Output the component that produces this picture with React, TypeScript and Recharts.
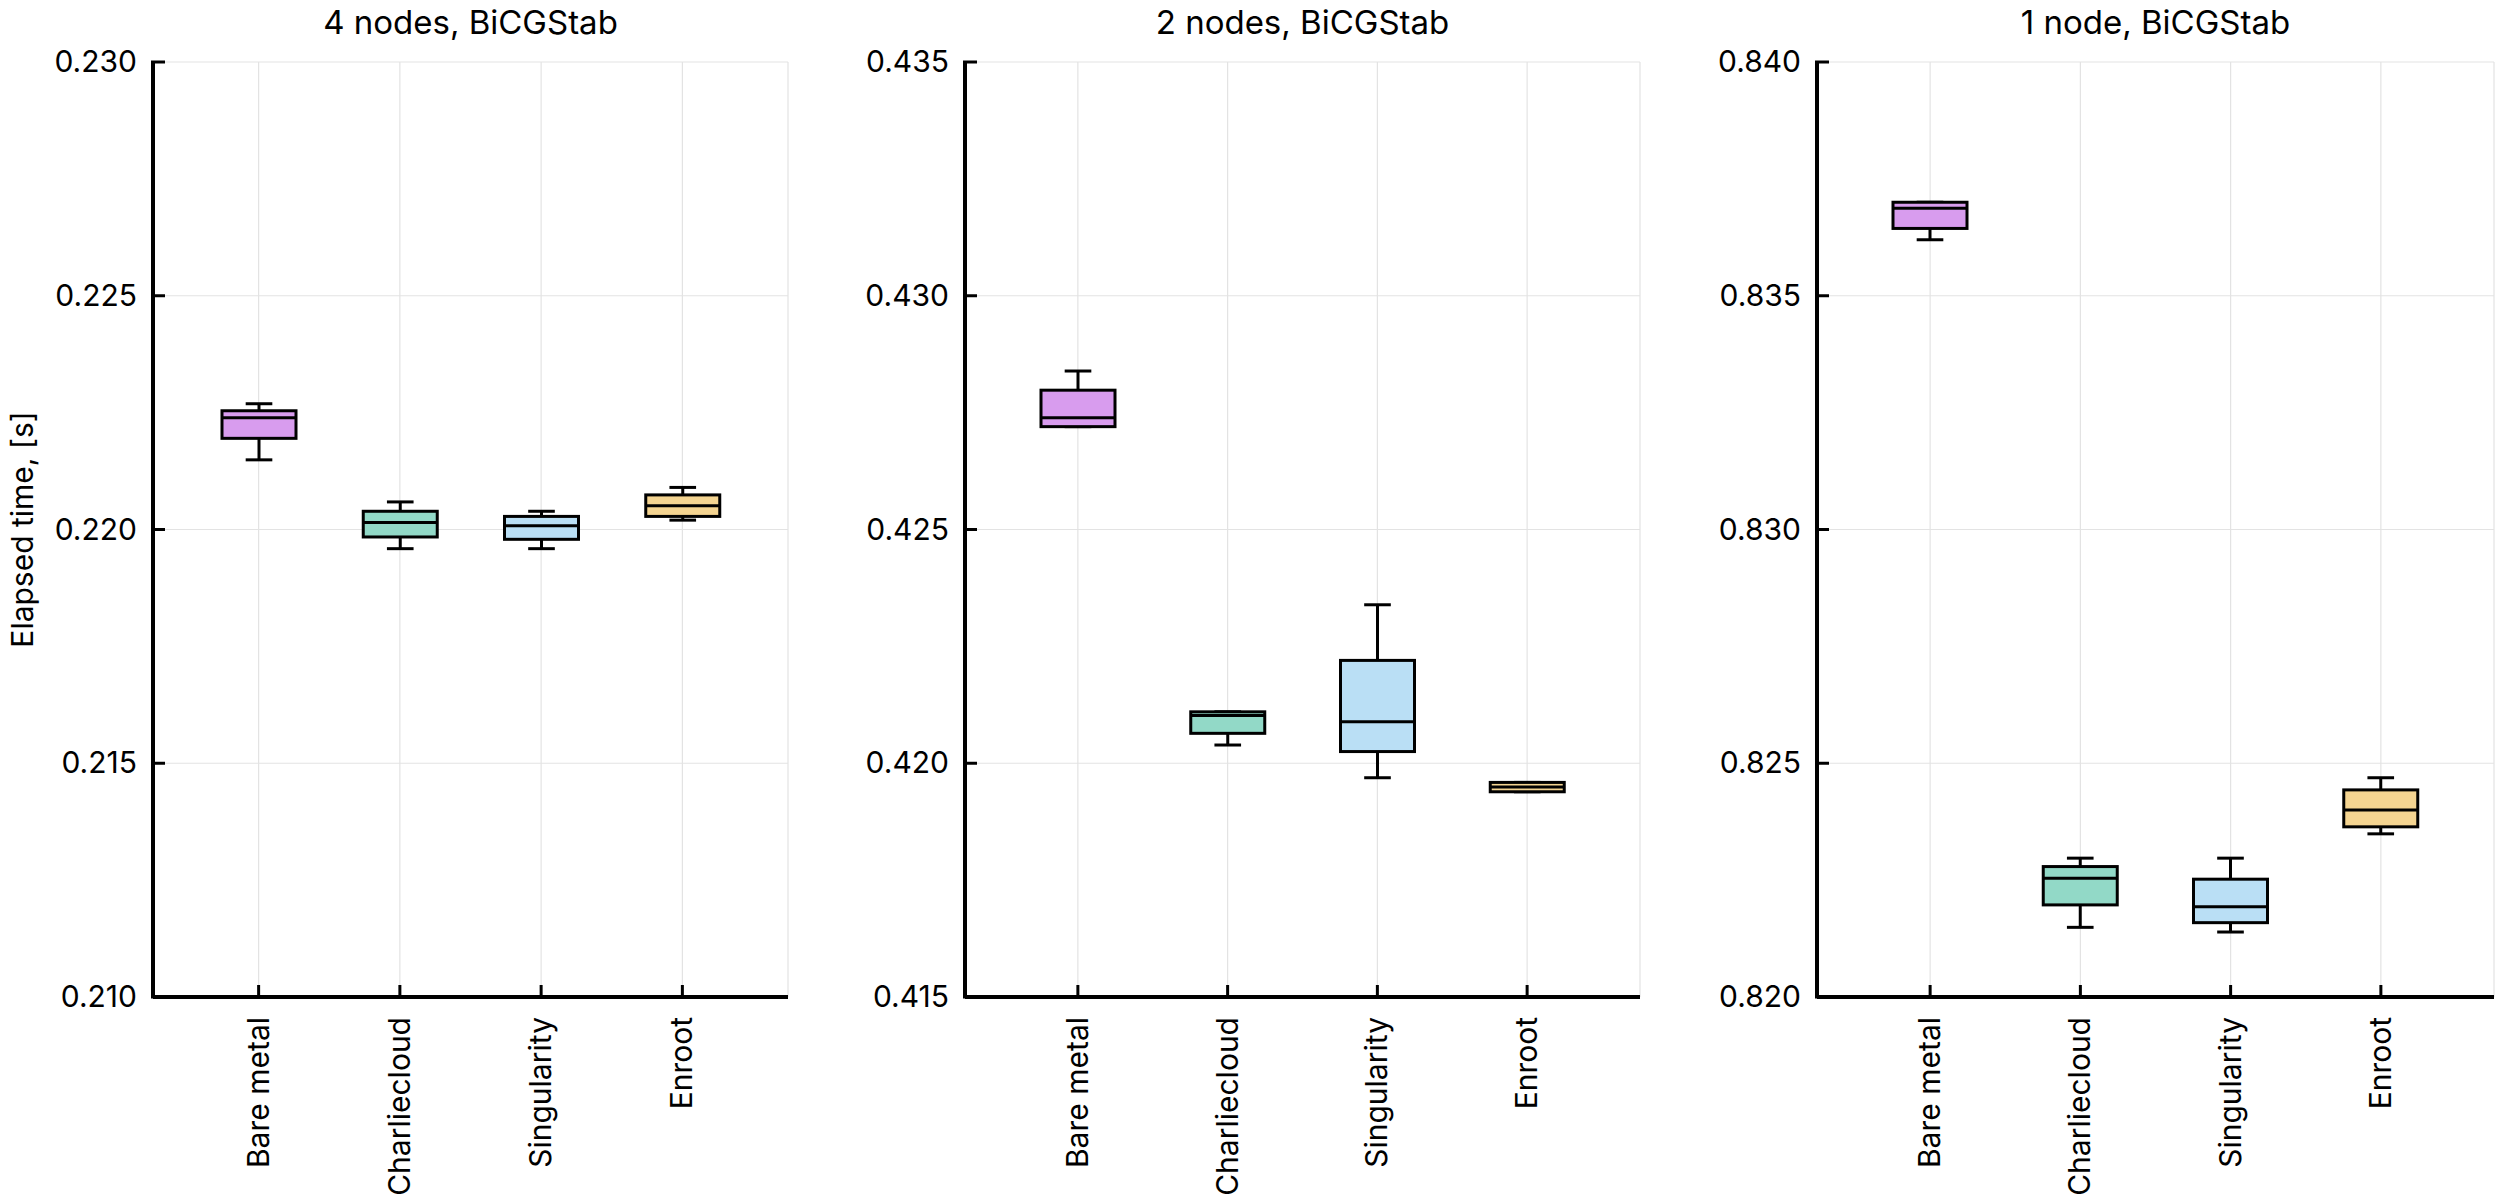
import React from 'react';
import { ComposedChart, Bar, XAxis, YAxis, CartesianGrid } from 'recharts';

const categories = ['Bare metal', 'Charliecloud', 'Singularity', 'Enroot'];
const colors = ['#d89cee', '#92d9c7', '#badff5', '#f4d491'];

// 4 nodes
const n4Min = [0.22149, 0.21959, 0.21959, 0.2202];
const n4Q1 = [0.22195, 0.21984, 0.21979, 0.22028];
const n4Med = [0.22239, 0.22015, 0.22008, 0.22051];
const n4Q3 = [0.22254, 0.22039, 0.22028, 0.22074];
const n4Max = [0.22269, 0.22059, 0.22039, 0.2209];
const n4Ticks = [0.21, 0.215, 0.22, 0.225, 0.23];

// 2 nodes
const n2Min = [0.4272, 0.42039, 0.41969, 0.41939];
const n2Q1 = [0.4272, 0.42064, 0.42025, 0.41939];
const n2Med = [0.42739, 0.42102, 0.42089, 0.41949];
const n2Q3 = [0.42798, 0.4211, 0.4222, 0.41959];
const n2Max = [0.42839, 0.4211, 0.42339, 0.41959];
const n2Ticks = [0.415, 0.42, 0.425, 0.43, 0.435];

// 1 node
const n1Min = [0.8362, 0.82149, 0.82139, 0.82349];
const n1Q1 = [0.83644, 0.82197, 0.82159, 0.82364];
const n1Med = [0.83687, 0.82254, 0.82193, 0.824];
const n1Q3 = [0.837, 0.82279, 0.82252, 0.82443];
const n1Max = [0.837, 0.82297, 0.82297, 0.82469];
const n1Ticks = [0.82, 0.825, 0.83, 0.835, 0.84];

const FONT = 'Inter, "Liberation Sans", Arial, sans-serif';

const build = (mn: number[], q1: number[], md: number[], q3: number[], mx: number[]) =>
  categories.map((name, i) => ({
    name,
    range: [mn[i], mx[i]],
    min: mn[i], q1: q1[i], med: md[i], q3: q3[i], max: mx[i],
    color: colors[i],
  }));

const BoxShape = (props: any) => {
  const { x, y, width, height, payload } = props;
  const { min, q1, med, q3, max, color } = payload;
  const span = max - min || 1e-9;
  const py = (v: number) => y + (height * (max - v)) / span;
  const cx = x + width / 2;
  const cap = width * 0.18;
  return (
    <g stroke="#000" strokeWidth={3}>
      <line x1={cx} x2={cx} y1={py(max)} y2={py(q3)} />
      <line x1={cx} x2={cx} y1={py(q1)} y2={py(min)} />
      <line x1={cx - cap} x2={cx + cap} y1={py(max)} y2={py(max)} />
      <line x1={cx - cap} x2={cx + cap} y1={py(min)} y2={py(min)} />
      <rect x={x} y={py(q3)} width={width} height={Math.max(py(q1) - py(q3), 1)} fill={color} />
      <line x1={x} x2={x + width} y1={py(med)} y2={py(med)} />
    </g>
  );
};

const LeftTick = (p: any) => (
  <g>
    <line x1={p.x} x2={p.x + 14} y1={p.y} y2={p.y} stroke="#000" strokeWidth={3} />
    <text x={p.x - 14} y={p.y} dy={10} textAnchor="end" fontSize={30} fontFamily={FONT} fill="#000">
      {Number(p.payload.value).toFixed(3)}
    </text>
  </g>
);
const RightTick = (p: any) => (
  <line x1={p.x} x2={p.x - 14} y1={p.y} y2={p.y} stroke="#000" strokeWidth={3} />
);
const BottomTick = (p: any) => (
  <g>
    <line x1={p.x} x2={p.x} y1={p.y} y2={p.y - 14} stroke="#000" strokeWidth={3} />
    <text
      x={p.x}
      y={p.y + 18}
      transform={`rotate(-90 ${p.x} ${p.y + 18})`}
      dy={10}
      textAnchor="end"
      fontSize={30}
      fontFamily={FONT}
      fill="#000"
    >
      {p.payload.value}
    </text>
  </g>
);
const TopTick = (p: any) => (
  <line x1={p.x} x2={p.x} y1={p.y} y2={p.y + 14} stroke="#000" strokeWidth={3} />
);

interface PanelProps {
  title: string;
  left: number;
  width: number;
  yWidth: number;
  pad: number;
  ticks: number[];
  data: any[];
  yLabel?: string;
}

const Panel: React.FC<PanelProps> = ({ title, left, width, yWidth, pad, ticks, data, yLabel }) => {
  const axisStroke = { stroke: '#000', strokeWidth: 4 };
  return (
    <div style={{ position: 'absolute', left, top: 0, width, height: 1200 }}>
      <div
        style={{
          position: 'absolute',
          left: yWidth,
          right: 2,
          top: 2,
          textAlign: 'center',
          fontFamily: FONT,
          fontSize: 33,
        }}
      >
        {title}
      </div>
      <ComposedChart
        width={width}
        height={1200}
        data={data}
        margin={{ top: 62, right: 2, bottom: 0, left: 0 }}
      >
        <CartesianGrid stroke="#e3e3e3" strokeWidth={1.2} horizontalValues={ticks} />
        <XAxis
          dataKey="name"
          xAxisId={0}
          padding={{ left: pad, right: pad }}
          height={203}
          axisLine={axisStroke}
          tickLine={false}
          tickSize={0}
          tick={<BottomTick />}
          interval={0}
        />
        <XAxis
          dataKey="name"
          xAxisId="t"
          orientation="top"
          padding={{ left: pad, right: pad }}
          height={0}
          axisLine={axisStroke}
          tickLine={false}
          tickSize={0}
          tick={<TopTick />}
          interval={0}
        />
        <YAxis
          yAxisId={0}
          width={yWidth}
          domain={[ticks[0], ticks[ticks.length - 1]]}
          ticks={ticks}
          allowDataOverflow
          axisLine={axisStroke}
          tickLine={false}
          tickSize={0}
          tick={<LeftTick />}
          interval={0}
          label={
            yLabel
              ? {
                  value: yLabel,
                  angle: -90,
                  position: 'insideLeft',
                  offset: 22,
                  style: { fontFamily: FONT, fontSize: 30, fill: '#000', textAnchor: 'middle' },
                }
              : undefined
          }
        />
        <YAxis
          yAxisId="r"
          orientation="right"
          width={0}
          domain={[ticks[0], ticks[ticks.length - 1]]}
          ticks={ticks}
          allowDataOverflow
          axisLine={axisStroke}
          tickLine={false}
          tickSize={0}
          tick={<RightTick />}
          interval={0}
        />
        <Bar
          dataKey="range"
          xAxisId={0}
          yAxisId={0}
          barSize={74}
          shape={<BoxShape />}
          isAnimationActive={false}
        />
      </ComposedChart>
    </div>
  );
};

export default function App() {
  return (
    <div style={{ position: 'absolute', left: 0, top: 0, width: 2514, height: 1200, background: '#fff' }}>
      <Panel
        title="4 nodes, BiCGStab"
        left={0}
        width={790}
        yWidth={153}
        pad={35}
        ticks={n4Ticks}
        data={build(n4Min, n4Q1, n4Med, n4Q3, n4Max)}
        yLabel="Elapsed time, [s]"
      />
      <Panel
        title="2 nodes, BiCGStab"
        left={800}
        width={842}
        yWidth={165}
        pad={38}
        ticks={n2Ticks}
        data={build(n2Min, n2Q1, n2Med, n2Q3, n2Max)}
      />
      <Panel
        title="1 node, BiCGStab"
        left={1650}
        width={846}
        yWidth={167}
        pad={38}
        ticks={n1Ticks}
        data={build(n1Min, n1Q1, n1Med, n1Q3, n1Max)}
      />
    </div>
  );
}
